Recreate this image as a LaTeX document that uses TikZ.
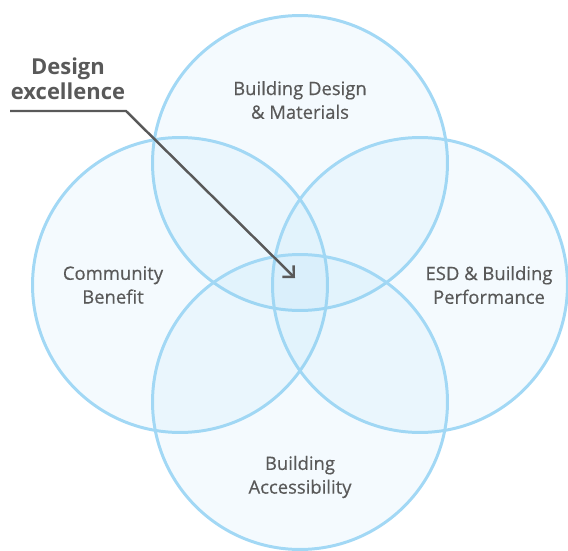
\documentclass[tikz,border=0pt]{standalone}
\usepackage{fontspec}
\setmainfont{Open Sans}
\newfontface\semifont{Open Sans}[FakeBold=0.5]
\usetikzlibrary{arrows.meta, positioning}
\definecolor{ringblue}{HTML}{A2D8F5}
\definecolor{ringfill}{HTML}{94D2F3}
\definecolor{inkgray}{HTML}{595959}

\begin{document}
\begin{tikzpicture}[x=0.02cm, y=-0.02cm,
    ring/.style={circle, draw=ringblue, line width=1.7pt, fill=ringfill,
      fill opacity=0.1, minimum size=5.9cm, inner sep=0pt},
    area/.style={text=inkgray, align=center, font=\fontsize{10.5}{13.5}\semifont},
    callout/.style={text=inkgray, align=center, font=\fontsize{12.5}{14}\selectfont\bfseries},
    pointer/.style={draw=inkgray, line width=1.4pt,
      -{Straight Barb[angle=90:6.5pt, line cap=butt]}}]
  \useasboundingbox (0,0) rectangle (568,551);

  % the four rings
  \node[ring] (design) at (300,163) {};
  \node[ring] (community) at (180,285) {};
  \node[ring] (esd) at (420,285) {};
  \node[ring] (access) at (300,402) {};

  % ring labels
  \node[area] (designlbl) at (300,100) {Building Design\\\& Materials};
  \node[area] (communitylbl) at (113,285) {Community\\Benefit};
  \node[area] (esdlbl) at (489,285) {ESD \& Building\\Performance};
  \node[area] (accesslbl) at (300,477) {Building\\Accessibility};

  % callout into the common core
  \node[callout] (excellence) at (68,79) {Design\\excellence};
  \coordinate (start) at (10,111);
  \coordinate (kink) at (126,111);
  \coordinate (core) at (295,278);
  \draw[pointer] (start) -- (kink) -- (core);
\end{tikzpicture}
\end{document}
